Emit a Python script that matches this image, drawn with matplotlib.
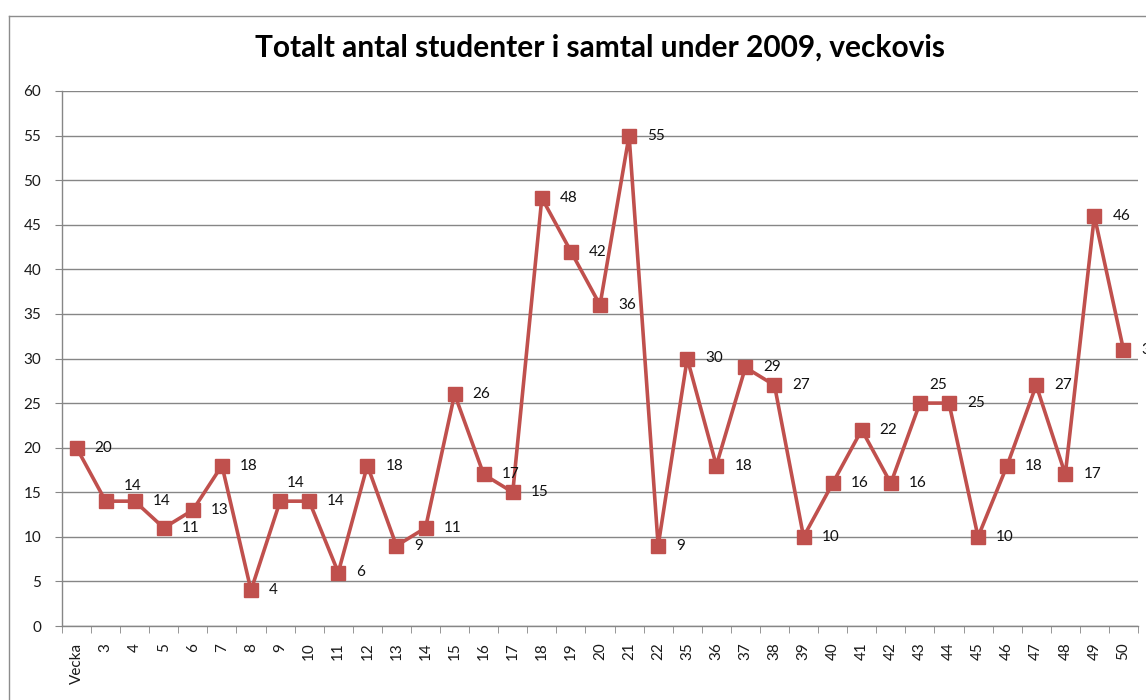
import matplotlib
matplotlib.use("Agg")
import matplotlib.pyplot as plt
from matplotlib.lines import Line2D
import numpy as np

weeks = ["Vecka", "3", "4", "5", "6", "7", "8", "9", "10", "11", "12", "13", "14", "15",
         "16", "17", "18", "19", "20", "21", "22", "35", "36", "37", "38", "39", "40",
         "41", "42", "43", "44", "45", "46", "47", "48", "49", "50"]
students = [20, 14, 14, 11, 13, 18, 4, 14, 14, 6, 18, 9, 11, 26, 17, 15, 48, 42, 36, 55,
            9, 30, 18, 29, 27, 10, 16, 22, 16, 25, 25, 10, 18, 27, 17, 46, 31]
title = "Totalt antal studenter i samtal under 2009, veckovis"

# label offsets (points, centre of label) for labels that were moved up to avoid overlap
moved_labels = {"3": (19.5, 11), "9": (11, 13), "43": (13, 13)}

plt.rcParams['font.family'] = ['Lato', 'DejaVu Sans']

W, H = 1146, 700
fig = plt.figure(figsize=(W / 100, H / 100), dpi=100)
ax = fig.add_axes([62 / W, 1 - 626 / H, (1138 - 62) / W, (626 - 91) / H])

red = "#C0504D"
grid_c = "#868686"
x = np.arange(len(weeks))
ax.plot(x, students, color=red, lw=2.6, marker="s", markersize=10.5,
        markerfacecolor=red, markeredgecolor=red, zorder=3, clip_on=False)

for xi, w, v in zip(x, weeks, students):
    if w in moved_labels:
        ax.annotate(str(v), (xi, v), xytext=moved_labels[w], textcoords="offset points",
                    ha="center", va="center", fontsize=11, color="#111111",
                    annotation_clip=False)
    else:
        ax.annotate(str(v), (xi, v), xytext=(13, 0), textcoords="offset points",
                    ha="left", va="center", fontsize=11, color="#111111",
                    annotation_clip=False)

ax.set_xlim(-0.5, len(weeks) - 0.5)
ax.set_ylim(0, 60)
ax.set_yticks(np.arange(0, 61, 5))
ax.set_xticks(x)
ax.set_xticklabels(weeks, rotation=90, fontsize=11, color="#1a1a1a")
ax.set_xticks(np.arange(-0.5, len(weeks), 1), minor=True)
ax.tick_params(axis="x", which="major", length=0, pad=12)
ax.tick_params(axis="x", which="minor", length=5, color=grid_c, direction="out")
ax.tick_params(axis="y", length=5, color=grid_c, labelsize=11, labelcolor="#1a1a1a", pad=10)

ax.yaxis.grid(True, color=grid_c, lw=1.0)
ax.set_axisbelow(True)
for s in ["top", "right"]:
    ax.spines[s].set_visible(False)
for s in ["left", "bottom"]:
    ax.spines[s].set_color(grid_c)
    ax.spines[s].set_linewidth(1.0)

fig.text(600 / W, 1 - 48 / H, title, ha="center", va="center",
         fontsize=21.5, fontweight="bold", color="black")

# chart border (cropped at right and bottom)
fig.add_artist(Line2D([9 / W, 1.0], [1 - 16 / H, 1 - 16 / H], transform=fig.transFigure,
                      color="#8c8c8c", lw=1.0))
fig.add_artist(Line2D([9 / W, 9 / W], [0, 1 - 16 / H], transform=fig.transFigure,
                      color="#8c8c8c", lw=1.0))

fig.savefig("out.png", dpi=100)
